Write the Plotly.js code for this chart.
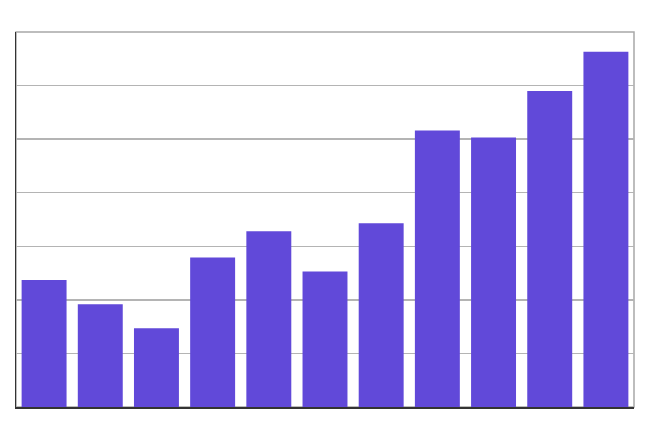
<!DOCTYPE html>
<html>
<head>
<meta charset="utf-8">
<script src="https://cdn.plot.ly/plotly-3.0.1.min.js"></script>
<style>
  html, body { margin: 0; padding: 0; background: #fff; }
  #chart { width: 646px; height: 423px; }
</style>
</head>
<body>
<div id="chart"></div>
<script>
// one bar per position
const categories = ["1", "2", "3", "4", "5", "6", "7", "8", "9", "10", "11"];
const values = [2.37, 1.92, 1.47, 2.79, 3.28, 2.53, 3.43, 5.16, 5.03, 5.90, 6.63];

const trace = {
  x: categories,
  y: values,
  type: "bar",
  marker: { color: "#6149d9" },
  hoverinfo: "y"
};

const layout = {
  width: 646,
  height: 423,
  margin: { l: 16, r: 12, t: 32, b: 16 },
  paper_bgcolor: "#fff",
  plot_bgcolor: "#fff",
  bargap: 0.2,
  showlegend: false,
  xaxis: {
    type: "category",
    showticklabels: false,
    ticks: "",
    showgrid: false,
    showline: true,
    linecolor: "#333",
    linewidth: 1.5,
    zeroline: false
  },
  yaxis: {
    range: [0, 7],
    dtick: 1,
    showticklabels: false,
    ticks: "",
    showgrid: true,
    gridcolor: "#b4b4b4",
    gridwidth: 1.5,
    showline: true,
    linecolor: "#333",
    linewidth: 1.5,
    zeroline: false,
    fixedrange: true
  },
  shapes: [{
    type: "rect",
    xref: "paper", yref: "paper",
    x0: 0, x1: 1, y0: 0, y1: 1,
    line: { color: "#a8a8a8", width: 1.5 },
    layer: "below"
  }]
};

Plotly.newPlot("chart", [trace], layout, { displayModeBar: false, staticPlot: true });
</script>
</body>
</html>
